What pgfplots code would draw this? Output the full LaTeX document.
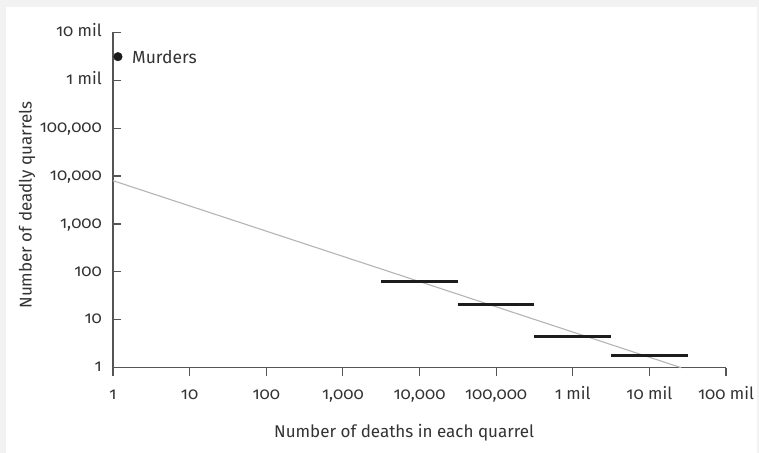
\documentclass[border=0pt]{standalone}
\usepackage{fontspec}
\setmainfont{Fira Sans}[Numbers=OldStyle]
\usepackage{pgfplots}
\pgfplotsset{compat=1.18}
\definecolor{txt}{HTML}{333333}
\definecolor{axc}{HTML}{555555}
\definecolor{fitc}{HTML}{B5B5B5}
\definecolor{segc}{HTML}{1C1C1C}
\definecolor{bgc}{HTML}{F2F2F2}
\begin{document}
\begin{tikzpicture}
\fill[bgc] (0,0) rectangle (759bp,453bp);
\fill[white] (6bp,0) rectangle (757bp,446bp);
\useasboundingbox (0,0) rectangle (759bp,453bp);
\begin{axis}[
  at={(113bp,85.3bp)}, anchor=south west,
  scale only axis, width=613bp, height=335.4bp,
  xmode=log, ymode=log,
  xmin=1, xmax=1e8, ymin=1, ymax=1e7,
  axis x line*=bottom, axis y line*=left,
  axis line style={-, draw=axc, line width=1.3bp},
  clip=false,
  xminorticks=false, yminorticks=false,
  xtick={1,10,100,1000,10000,100000,1000000,10000000,100000000},
  xticklabels={1,10,100,{1,000},{10,000},{100,000},1 mil,10 mil,100 mil},
  ytick={1,10,100,1000,10000,100000,1000000,10000000},
  yticklabels={1,10,100,{1,000},{10,000},{100,000},1 mil,10 mil},
  xtick align=outside, ytick align=inside,
  major tick length=8bp,
  every tick/.style={draw=axc, line width=1.2bp},
  every tick label/.append style={font=\fontsize{16.8bp}{19bp}\selectfont, text=txt},
  xticklabel style={anchor=base, inner sep=0pt, yshift=-24bp},
  yticklabel style={anchor=base east, inner sep=0pt, xshift=-11bp, yshift=-4.2bp},
  xlabel={Number of deaths in each quarrel},
  ylabel={Number of deadly quarrels},
  label style={font=\fontsize{17bp}{19bp}\selectfont, text=txt},
  xlabel style={at={(axis description cs:0.475,-0.195)}, anchor=center},
  ylabel style={at={(axis description cs:-0.140,0.485)}, anchor=center, rotate=0},
]
\addplot[fitc, line width=1.1bp] coordinates {(1,8000) (26000000,1)};
\addplot[segc, line width=2.8bp] coordinates {(3162,62) (31623,62)};
\addplot[segc, line width=2.8bp] coordinates {(31623,21) (316228,21)};
\addplot[segc, line width=2.8bp] coordinates {(316228,4.4) (3162278,4.4)};
\addplot[segc, line width=2.8bp] coordinates {(3162278,1.8) (31622777,1.8)};
\addplot[only marks, mark=*, mark size=4.3bp, color=segc] coordinates {(1.16,3100000)};
\node[anchor=west, inner sep=0pt, xshift=14bp, font=\fontsize{17.5bp}{19bp}\selectfont, text=txt] at (axis cs:1.16,3100000) {Murders};
\end{axis}
\end{tikzpicture}
\end{document}
